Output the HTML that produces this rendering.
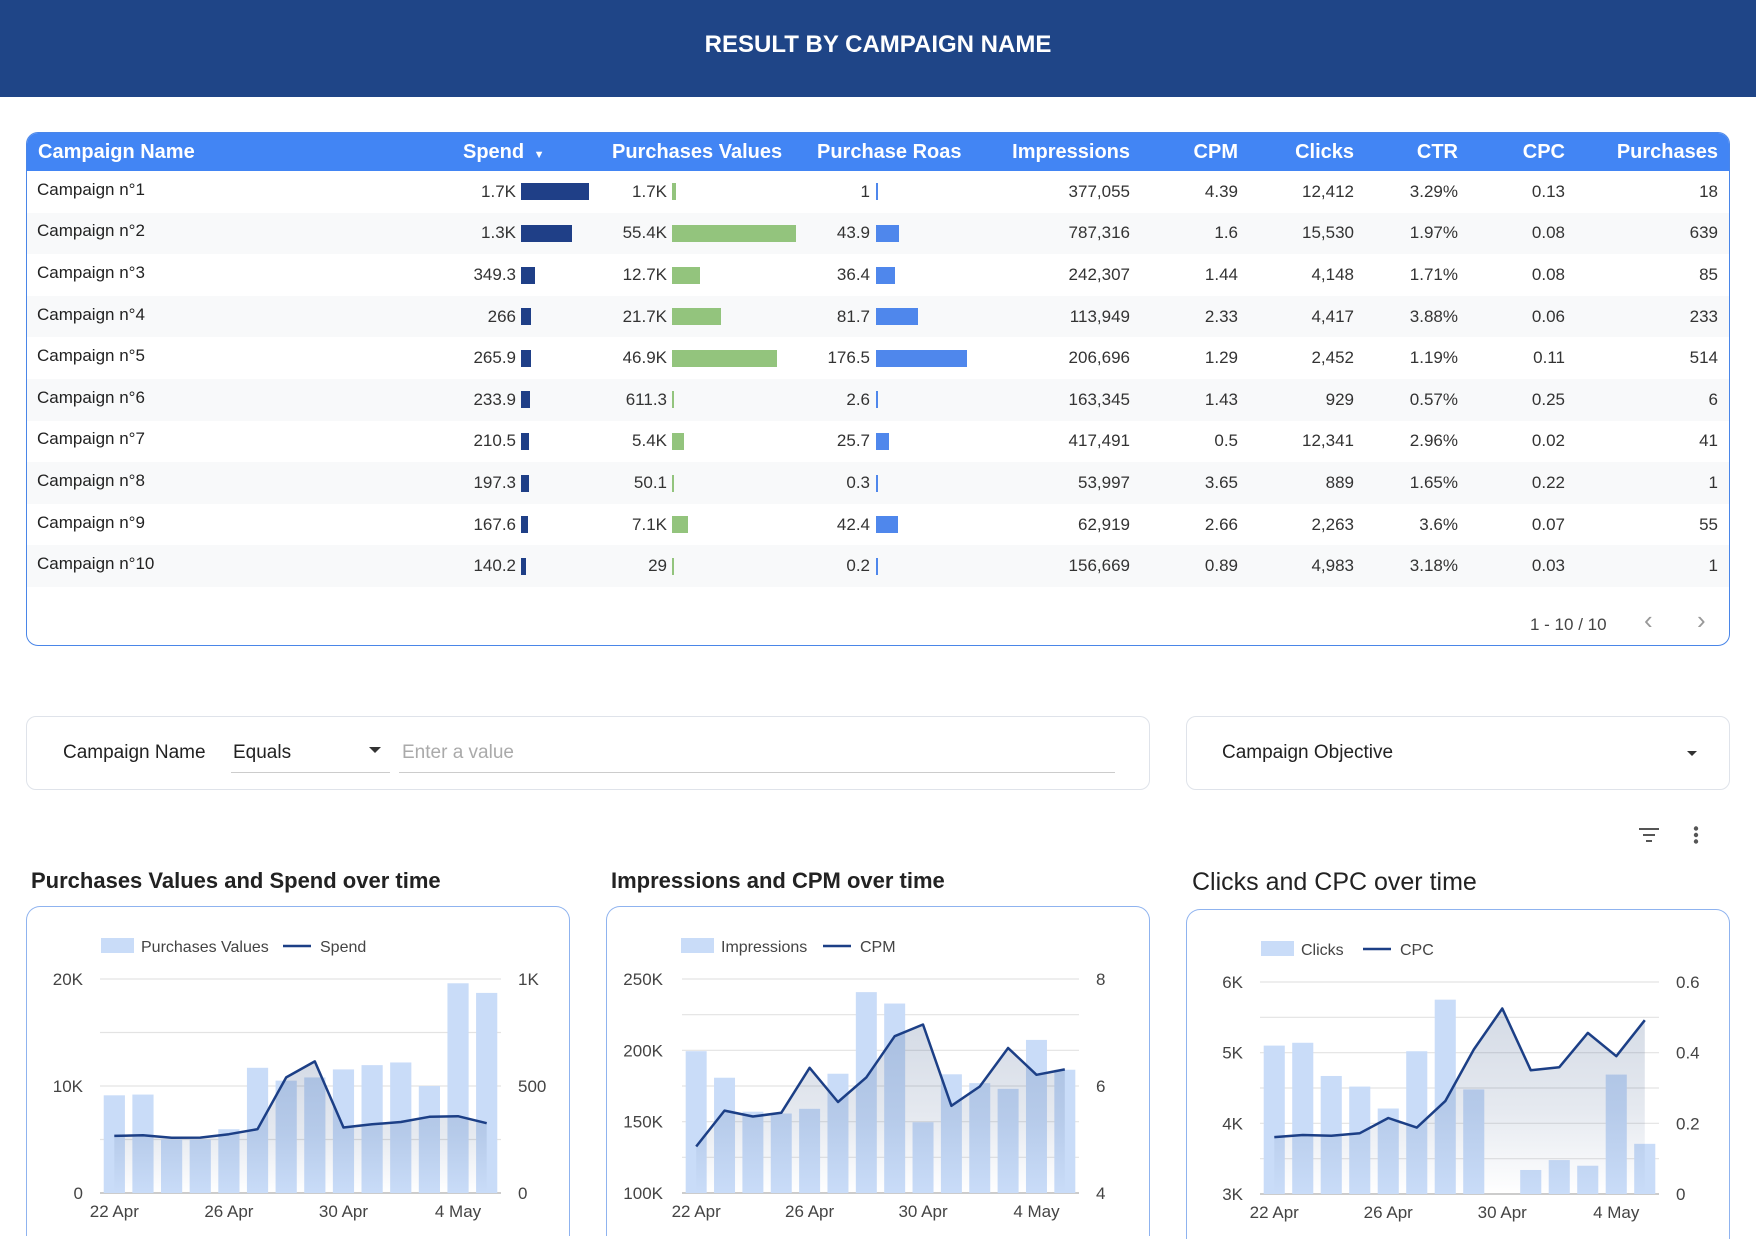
<!DOCTYPE html>
<html><head><meta charset="utf-8">
<style>
*{box-sizing:border-box;margin:0;padding:0}
body{width:1756px;height:1222px;overflow:hidden;background:#fff;font-family:"Liberation Sans",Arial,sans-serif;position:relative;color:#222}
.abs{position:absolute}
#hdr{left:0;top:0;width:1756px;height:97px;background:#1f4587;color:#fff;font-weight:bold;font-size:24px;text-align:center;line-height:90px}
#tbl{left:26px;top:132px;width:1704px;height:514px;border:1px solid #4a86e8;border-radius:12px;overflow:hidden}
.th{position:absolute;top:0;height:38px;line-height:38px;color:#fff;font-weight:bold;font-size:20px;white-space:nowrap}
.cell{position:absolute;font-size:17px;color:#333;white-space:nowrap;transform:translateY(-50%)}
.fbox{border:1px solid #dfe3ea;border-radius:10px}
.ctitle{font-size:22px;font-weight:bold;color:#222;white-space:nowrap}
.cbox{border:1px solid #8fb3ef;border-bottom:none;border-radius:14px 14px 0 0;height:330px}
</style></head><body>
<div id="hdr" class="abs">RESULT BY CAMPAIGN NAME</div>

<div id="tbl" class="abs">
  <div class="abs" style="left:0;top:0;width:1704px;height:38px;background:#4285f4"></div>
  <div class="th" style="left:11px">Campaign Name</div>
  <div class="th" style="left:436px">Spend <span style="font-size:11px;margin-left:4px">▼</span></div>
  <div class="th" style="left:585px">Purchases Values</div>
  <div class="th" style="left:790px">Purchase Roas</div>
  <div class="th" style="right:599px">Impressions</div>
  <div class="th" style="right:491px">CPM</div>
  <div class="th" style="right:375px">Clicks</div>
  <div class="th" style="right:271px">CTR</div>
  <div class="th" style="right:164px">CPC</div>
  <div class="th" style="right:11px">Purchases</div>
  <div id="rows"></div>
  <div class="abs" style="left:1503px;top:482px;font-size:17px;color:#444">1 - 10 / 10</div>
  <div class="abs" style="left:1617px;top:472px;font-size:26px;color:#999">‹</div>
  <div class="abs" style="left:1670px;top:472px;font-size:26px;color:#999">›</div>
</div>

<div class="abs fbox" style="left:26px;top:716px;width:1124px;height:74px">
  <div class="abs" style="left:36px;top:25px;font-size:19px;color:#222">Campaign Name</div>
  <div class="abs" style="left:204px;top:10px;width:159px;height:46px;border-bottom:1px solid #ccc">
    <span class="abs" style="left:2px;top:15px;font-size:19px;color:#222">Equals</span>
    <span class="abs" style="left:138px;top:20px;width:0;height:0;border-left:6px solid transparent;border-right:6px solid transparent;border-top:6px solid #333"></span>
  </div>
  <div class="abs" style="left:372px;top:10px;width:716px;height:46px;border-bottom:1px solid #ccc">
    <span class="abs" style="left:3px;top:15px;font-size:19px;color:#aaa">Enter a value</span>
  </div>
</div>
<div class="abs fbox" style="left:1186px;top:716px;width:544px;height:74px">
  <div class="abs" style="left:35px;top:25px;font-size:19px;color:#222">Campaign Objective</div>
  <span class="abs" style="left:500px;top:34px;width:0;height:0;border-left:5px solid transparent;border-right:5px solid transparent;border-top:5px solid #333"></span>
</div>

<svg class="abs" style="left:1638px;top:826px" width="70" height="20">
  <g stroke="#555" stroke-width="2"><line x1="1" y1="3" x2="21" y2="3"/><line x1="5" y1="9" x2="17" y2="9"/><line x1="8" y1="15" x2="14" y2="15"/></g>
  <g fill="#555"><circle cx="58" cy="2.5" r="2.2"/><circle cx="58" cy="9" r="2.2"/><circle cx="58" cy="15.5" r="2.2"/></g>
</svg>

<div class="abs ctitle" style="left:31px;top:868px">Purchases Values and Spend over time</div>
<div class="abs ctitle" style="left:611px;top:868px">Impressions and CPM over time</div>
<div class="abs ctitle" style="left:1192px;top:868px;font-weight:normal;font-size:25px">Clicks and CPC over time</div>
<div class="abs cbox" style="left:26px;top:906px;width:544px"></div>
<div class="abs cbox" style="left:606px;top:906px;width:544px"></div>
<div class="abs cbox" style="left:1186px;top:909px;width:544px"></div>
<svg id="charts" class="abs" style="left:0;top:0" width="1756" height="1222"></svg>

<script>
// ---- table data ----
const campaigns=["Campaign n°1","Campaign n°2","Campaign n°3","Campaign n°4","Campaign n°5","Campaign n°6","Campaign n°7","Campaign n°8","Campaign n°9","Campaign n°10"];
const spend=[1745,1300,349.3,266,265.9,233.9,210.5,197.3,167.6,140.2];
const spendLabels=["1.7K","1.3K","349.3","266","265.9","233.9","210.5","197.3","167.6","140.2"];
const purchValues=[1700,55400,12700,21700,46900,611.3,5400,50.1,7100,29];
const purchLabels=["1.7K","55.4K","12.7K","21.7K","46.9K","611.3","5.4K","50.1","7.1K","29"];
const roas=[1,43.9,36.4,81.7,176.5,2.6,25.7,0.3,42.4,0.2];
const impressions=["377,055","787,316","242,307","113,949","206,696","163,345","417,491","53,997","62,919","156,669"];
const cpm=["4.39","1.6","1.44","2.33","1.29","1.43","0.5","3.65","2.66","0.89"];
const clicks=["12,412","15,530","4,148","4,417","2,452","929","12,341","889","2,263","4,983"];
const ctr=["3.29%","1.97%","1.71%","3.88%","1.19%","0.57%","2.96%","1.65%","3.6%","3.18%"];
const cpc=["0.13","0.08","0.08","0.06","0.11","0.25","0.02","0.22","0.07","0.03"];
const purchases=["18","639","85","233","514","6","41","1","55","1"];

const rows=document.getElementById('rows');
const RH=41.6, R0=38;
function cell(txt,style,name){const d=document.createElement('div');d.className='cell';d.textContent=txt;d.style.cssText+=style;


rows.appendChild(d);return d;}
function bar(x,cy,w,color,name){const d=document.createElement('div');d.style.cssText=`position:absolute;left:${x}px;top:${cy-8.5}px;width:${Math.max(2,w)}px;height:17px;background:${color}`;


rows.appendChild(d);}
const maxS=Math.max(...spend),maxP=Math.max(...purchValues),maxR=Math.max(...roas);
campaigns.forEach((c,i)=>{
  const top=R0+RH*i, cy=top+RH/2;
  if(i%2==1){const b=document.createElement('div');b.style.cssText=`position:absolute;left:0;top:${top}px;width:1704px;height:${RH}px;background:#f8f9fa`;
  
  
  rows.appendChild(b);}
  cell(c,`left:10px;top:${cy-2}px;color:#222`,'campaign-name');
  cell(spendLabels[i],`right:${1704-491}px;top:${cy}px`,'spend-value');
  bar(494,cy,68*spend[i]/maxS,'#1f3f87','spend-bar');
  cell(purchLabels[i],`right:${1704-642}px;top:${cy}px`,'purchases-value');
  bar(645,cy,124*purchValues[i]/maxP,'#93c47d','purchases-bar');
  cell(String(roas[i]),`right:${1704-845}px;top:${cy}px`,'roas-value');
  bar(849,cy,91*roas[i]/maxR,'#4f87ec','roas-bar');
  cell(impressions[i],`right:${1704-1105}px;top:${cy}px`,'impressions-value');
  cell(cpm[i],`right:${1704-1213}px;top:${cy}px`,'cpm-value');
  cell(clicks[i],`right:${1704-1329}px;top:${cy}px`,'clicks-value');
  cell(ctr[i],`right:${1704-1433}px;top:${cy}px`,'ctr-value');
  cell(cpc[i],`right:${1704-1540}px;top:${cy}px`,'cpc-value');
  cell(purchases[i],`right:${1704-1693}px;top:${cy}px`,'purchases-count');
});

// ---- chart data ----
const dates=["22 Apr","23 Apr","24 Apr","25 Apr","26 Apr","27 Apr","28 Apr","29 Apr","30 Apr","1 May","2 May","3 May","4 May","5 May"];
const xTickLabels=["22 Apr","26 Apr","30 Apr","4 May"];
const c1Purchases=[9130,9200,5000,5000,5960,11700,10500,10800,11550,11950,12200,10000,19600,18700];
const c1Spend=[267,270,258,259,275,298,540,615,306,321,332,356,359,326];
const c1LeftTicks=["0","10K","20K"];
const c1RightTicks=["0","500","1K"];
const c2Impressions=[199400,180800,157000,155700,159000,183600,240800,232800,149600,183200,177000,173000,207300,186400];
const c2Cpm=[4.87,5.54,5.43,5.50,6.34,5.70,6.16,6.93,7.15,5.63,5.99,6.71,6.21,6.31];
const c2LeftTicks=["100K","150K","200K","250K"];
const c2RightTicks=["4","6","8"];
const c3Clicks=[5100,5140,4670,4520,4210,5020,5750,4480,2900,3340,3480,3400,4690,3710];
const c3Cpc=[0.161,0.167,0.165,0.172,0.215,0.188,0.263,0.409,0.525,0.350,0.359,0.456,0.390,0.492];
const c3LeftTicks=["3K","4K","5K","6K"];
const c3RightTicks=["0","0.2","0.4","0.6"];

const svg=document.getElementById('charts');
const NS='http://www.w3.org/2000/svg';
function mk(tag,attrs,parent){const e=document.createElementNS(NS,tag);for(const k in attrs)e.setAttribute(k,attrs[k]);(parent||svg).appendChild(e);return e;}
function txt(s,x,y,anchor,parent,size,color){const t=mk('text',{x,y,'text-anchor':anchor,'font-size':size||17,fill:color||'#444','font-family':'Liberation Sans, Arial, sans-serif'},parent);t.textContent=s;return t;}

function drawChart(o){
  const g=mk('g',{});
  
  
  const n=o.bars.length, band=(o.x1-o.x0)/n;
  const xc=i=>o.x0+band*(i+0.5);
  const yL=v=>o.yb-(Math.max(v,o.lmin)-o.lmin)/(o.lmax-o.lmin)*(o.yb-o.yt);
  const yR=v=>o.yb-(v-o.rmin)/(o.rmax-o.rmin)*(o.yb-o.yt);
  for(let k=0;k<=o.grid;k++){const y=o.yt+(o.yb-o.yt)*k/o.grid;
    const l=mk('line',{x1:o.x0,x2:o.x1,y1:y,y2:y,stroke:k==o.grid?'#bbb':'#e3e3e3','stroke-width':k==o.grid?1.5:1.2},g);
    
    }
  o.bars.forEach((v,i)=>{const y=yL(v);const r=mk('rect',{x:xc(i)-band*0.37,y:y,width:band*0.74,height:o.yb-y,fill:'#c9dcf8'},g);
    
    });
  const gid='grad'+o.name;
  const defs=mk('defs',{},g);const lg=mk('linearGradient',{id:gid,x1:0,y1:0,x2:0,y2:1},defs);
  mk('stop',{offset:'0','stop-color':'#2a4a80','stop-opacity':0.2},lg);
  mk('stop',{offset:'0.55','stop-color':'#2a4a80','stop-opacity':0.12},lg);
  mk('stop',{offset:'1','stop-color':'#2a4a80','stop-opacity':0},lg);
  const pts=o.line.map((v,i)=>xc(i).toFixed(1)+','+yR(v).toFixed(1));
  const area=mk('path',{d:'M'+xc(0)+','+o.yb+' L'+pts.join(' L')+' L'+xc(n-1)+','+o.yb+' Z',fill:`url(#${gid})`},g);
  
  
  const pl=mk('polyline',{points:pts.join(' '),fill:'none',stroke:'#1c3f86','stroke-width':2.5,'stroke-linejoin':'round'},g);
  
  
  o.lticks.forEach((s,k)=>{const t=txt(s,o.lx,o.yb-(o.yb-o.yt)*k/(o.lticks.length-1)+6,'end',g);
    
    });
  o.rticks.forEach((s,k)=>{const t=txt(s,o.rx,o.yb-(o.yb-o.yt)*k/(o.rticks.length-1)+6,'start',g);
    
    });
  xTickLabels.forEach(s=>{const i=dates.indexOf(s);const t=txt(s,xc(i),o.yb+24,'middle',g);
    
    });
  const lgG=mk('g',{},g);
  
  
  mk('rect',{x:o.legX,y:o.legY-8,width:33,height:15,fill:'#c9dcf8'},lgG);
  txt(o.names[0],o.legX+40,o.legY+6,'start',lgG,16,'#444');
  const w1=o.names[0].length*8.0;
  const lx=o.legX+40+w1+14;
  mk('line',{x1:lx,x2:lx+28,y1:o.legY,y2:o.legY,stroke:'#1c3f86','stroke-width':2.5},lgG);
  txt(o.names[1],lx+37,o.legY+6,'start',lgG,16,'#444');
}
drawChart({name:'chart1',bars:c1Purchases,line:c1Spend,x0:100,x1:501,yt:979,yb:1193,lmin:0,lmax:20000,rmin:0,rmax:1000,grid:4,lticks:c1LeftTicks,rticks:c1RightTicks,lx:83,rx:518,legX:101,legY:946,names:['Purchases Values','Spend']});
drawChart({name:'chart2',bars:c2Impressions,line:c2Cpm,x0:682,x1:1079,yt:979,yb:1193,lmin:100000,lmax:250000,rmin:4,rmax:8,grid:6,lticks:c2LeftTicks,rticks:c2RightTicks,lx:663,rx:1096,legX:681,legY:946,names:['Impressions','CPM']});
drawChart({name:'chart3',bars:c3Clicks,line:c3Cpc,x0:1260,x1:1659,yt:982,yb:1194,lmin:3000,lmax:6000,rmin:0,rmax:0.6,grid:6,lticks:c3LeftTicks,rticks:c3RightTicks,lx:1243,rx:1676,legX:1261,legY:949,names:['Clicks','CPC']});
</script>
</body></html>
